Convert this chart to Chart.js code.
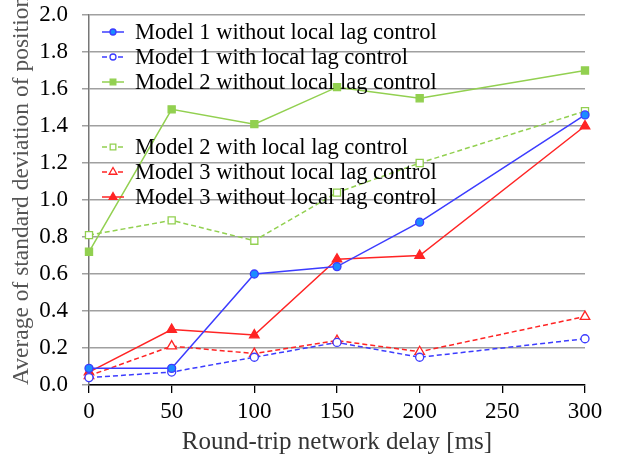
<!DOCTYPE html>
<html>
<head>
<meta charset="utf-8">
<script src="https://cdn.jsdelivr.net/npm/chart.js@4"></script>
<style>
  html, body { margin: 0; padding: 0; background: #fff; }
  #wrap { width: 628px; height: 466px; }
</style>
</head>
<body>
<div id="wrap"><canvas id="chart" width="628" height="466"></canvas></div>
<script>
// data
const delays = [0, 50, 100, 150, 200, 300];
const model1Without = [0.09, 0.09, 0.60, 0.64, 0.88, 1.46];
const model1With = [0.04, 0.07, 0.15, 0.23, 0.15, 0.25];
const model2Without = [0.72, 1.49, 1.41, 1.61, 1.55, 1.70];
const model2With = [0.81, 0.89, 0.78, 1.04, 1.20, 1.48];
const model3WithoutA = [0.05, 0.21, 0.17, 0.24, 0.18, 0.37];
const model3WithoutB = [0.07, 0.30, 0.27, 0.68, 0.70, 1.40];

const labels = [
    'Model 1 without local lag control',
    'Model 1 with local lag control',
    'Model 2 without local lag control',
    'Model 2 with local lag control',
    'Model 3 without local lag control',
    'Model 3 without local lag control'
];

const serif = '"Liberation Serif", "DejaVu Serif", serif';
const blue = '#3c3cff';
const green = '#92d050';
const red = '#ff2424';

const pts = (vals) => delays.map((d, i) => ({x: d, y: vals[i]}));

function series(label, vals, color, style, filled, dashed, radius, fill) {
    return {
        label: label,
        data: pts(vals),
        borderColor: color,
        borderWidth: 1.5,
        borderDash: dashed ? [5, 3] : [],
        pointStyle: style,
        pointRadius: radius,
        pointBorderWidth: 1.3,
        pointBorderColor: color,
        pointBackgroundColor: filled ? (fill || color) : '#ffffff',
        tension: 0,
        clip: false
    };
}

// legend drawn inside the plot, over the lines
const insideLegend = {
    id: 'insideLegend',
    afterDatasetsDraw(chart) {
        const ctx = chart.ctx;
        const area = chart.chartArea;
        let y = area.top + 17;
        chart.data.datasets.forEach((ds, i) => {
            if (i === 3) y += 40;
            const x0 = area.left + 13, x1 = area.left + 35;
            ctx.save();
            ctx.strokeStyle = ds.borderColor;
            ctx.lineWidth = ds.borderWidth;
            ctx.setLineDash(ds.borderDash);
            ctx.beginPath();
            ctx.moveTo(x0, y);
            ctx.lineTo(x1, y);
            ctx.stroke();
            ctx.setLineDash([]);
            ctx.fillStyle = ds.pointBackgroundColor;
            ctx.strokeStyle = ds.pointBorderColor;
            ctx.lineWidth = ds.pointBorderWidth;
            Chart.helpers.drawPoint(ctx, {pointStyle: ds.pointStyle, radius: ds.pointRadius - 1, borderWidth: ds.pointBorderWidth}, (x0 + x1) / 2, y);
            ctx.fillStyle = '#000';
            ctx.font = '22.5px ' + serif;
            ctx.textBaseline = 'middle';
            ctx.fillText(ds.label, area.left + 46, y + 1);
            ctx.restore();
            y += 25;
        });
    }
};

const chart = document.querySelector('#chart').getContext('2d');

new Chart(chart, {
    type: 'line',
    data: {
        datasets: [
            series(labels[0], model1Without, blue, 'circle', true, false, 4, '#1a8cff'),
            series(labels[1], model1With, blue, 'circle', false, true, 4),
            series(labels[2], model2Without, green, 'rect', true, false, 5),
            series(labels[3], model2With, green, 'rect', false, true, 5),
            series(labels[4], model3WithoutA, red, 'triangle', false, true, 5.5),
            series(labels[5], model3WithoutB, red, 'triangle', true, false, 5.5)
        ]
    },
    options: {
        responsive: false,
        animation: false,
        layout: { padding: { top: 15, right: 43, left: 0, bottom: 0 } },
        plugins: {
            legend: { display: false },
            tooltip: { enabled: false }
        },
        scales: {
            x: {
                type: 'linear',
                min: 0,
                max: 300,
                afterFit(scale) {
                    scale.height = 81;
                    scale.paddingLeft = 0;
                    scale.paddingRight = 0;
                },
                ticks: {
                    stepSize: 50,
                    color: '#000',
                    padding: 5,
                    font: { family: serif, size: 23 }
                },
                grid: {
                    drawOnChartArea: false,
                    drawTicks: true,
                    tickLength: 8,
                    color: '#000',
                    lineWidth: 1.3
                },
                border: { color: '#000', width: 1.5 },
                title: {
                    display: true,
                    text: 'Round-trip network delay [ms]',
                    color: '#333',
                    font: { family: serif, size: 25 },
                    padding: { bottom: 9 }
                }
            },
            y: {
                min: 0,
                max: 2,
                afterFit(scale) {
                    scale.width = 89;
                    scale.paddingTop = 0;
                    scale.paddingBottom = 0;
                },
                ticks: {
                    stepSize: 0.2,
                    color: '#000',
                    padding: 14,
                    font: { family: serif, size: 23 },
                    callback: (v) => v.toFixed(1)
                },
                grid: {
                    color: '#a0a0a0',
                    lineWidth: 1.5,
                    tickLength: 7
                },
                border: { color: '#777', width: 1.5 },
                title: {
                    display: true,
                    text: 'Average of standard deviation of position',
                    align: 'start',
                    color: '#555',
                    font: { family: serif, size: 23.5 },
                    padding: { top: 8 }
                }
            }
        }
    },
    plugins: [insideLegend]
});
</script>
</body>
</html>
